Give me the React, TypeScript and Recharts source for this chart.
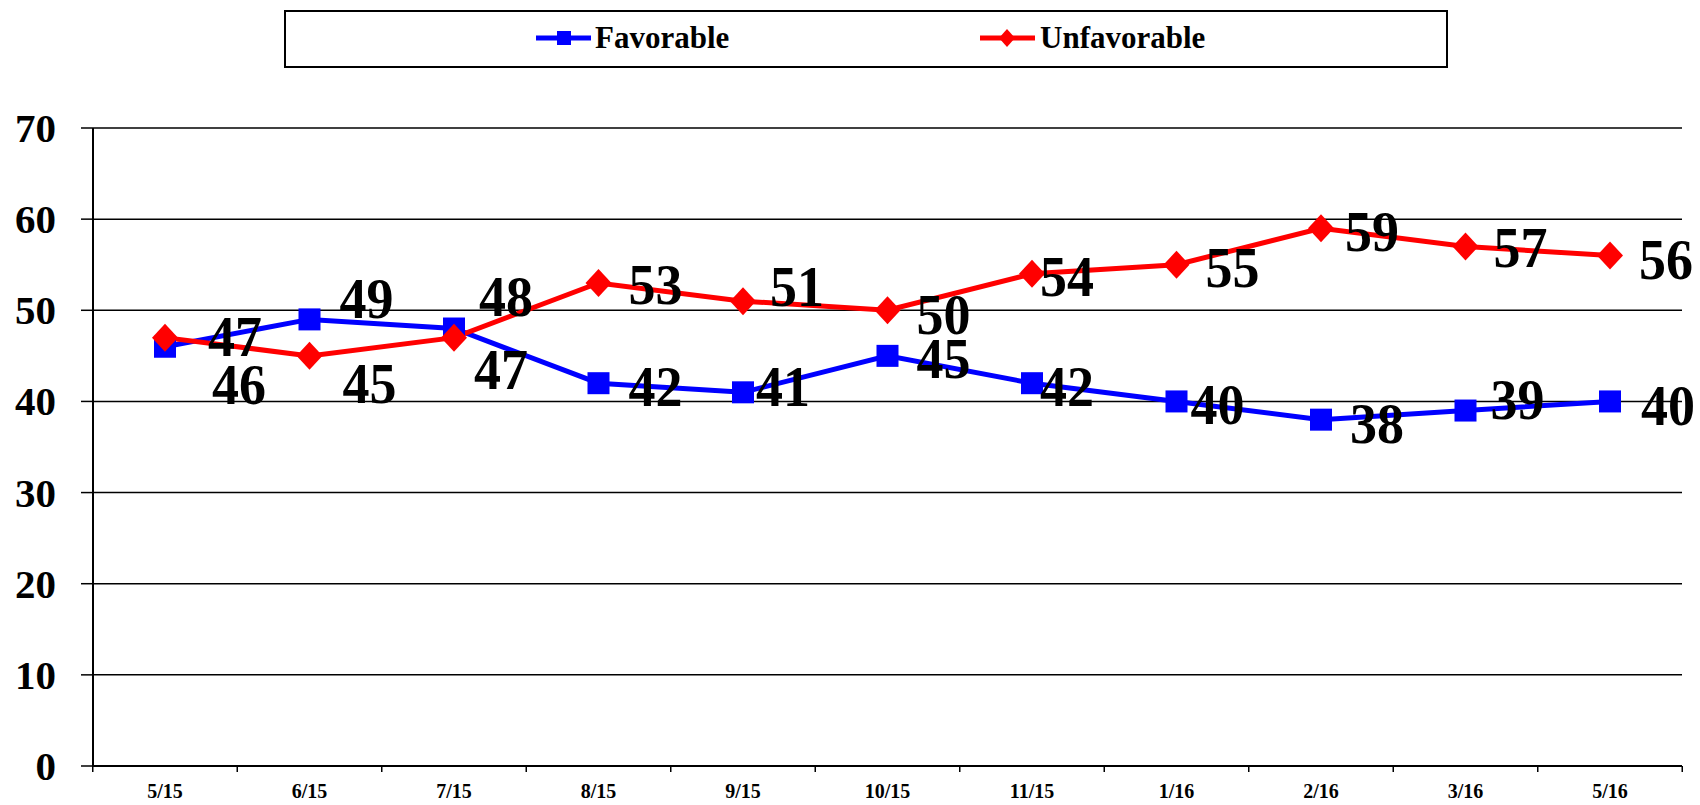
import { LineChart, Line, XAxis, YAxis, CartesianGrid, LabelList } from "recharts";

const months = ["5/15", "6/15", "7/15", "8/15", "9/15", "10/15", "11/15", "1/16", "2/16", "3/16", "5/16"];
const favorable = [46, 49, 48, 42, 41, 45, 42, 40, 38, 39, 40];
const unfavorable = [47, 45, 47, 53, 51, 50, 54, 55, 59, 57, 56];
const yTicks = [0, 10, 20, 30, 40, 50, 60, 70];

// where each value label sits, relative to its point (dx, dy of the label centre)
const favLabelOffsets = [[74, 37], [57, -21], [52, -33], [57, 3], [40, -6], [56, 2], [35, 3], [41, 3], [56, 3], [52, -12], [58, 4]];
const unfavLabelOffsets = [[70, -2], [60, 27], [47, 31], [57, 1], [54, -15], [56, 4], [35, 2], [56, 2], [51, 3], [55, 1], [56, 3]];

const data = months.map((m, i) => ({ month: m, fav: favorable[i], unfav: unfavorable[i] }));

const FONT = "'Liberation Serif', 'Times New Roman', serif";
const BLUE = "#0000ff";
const RED = "#ff0000";
const HALF_BAND = 72.25;

function XTick(props: any) {
    const { x, y, payload, index } = props;
    const last = index === months.length - 1;
    return (
        <g>
            <line x1={x - HALF_BAND} y1={y} x2={x - HALF_BAND} y2={y + 6} stroke="#000" strokeWidth={1.5} />
            {last && <line x1={x + HALF_BAND} y1={y} x2={x + HALF_BAND} y2={y + 6} stroke="#000" strokeWidth={1.5} />}
            <text x={x} y={y + 32} textAnchor="middle" fontFamily={FONT} fontWeight="bold" fontSize={20} fill="#000">
                {payload.value}
            </text>
        </g>
    );
}

function YTick(props: any) {
    const { x, y, payload } = props;
    return (
        <g>
            <line x1={x - 12} y1={y} x2={x} y2={y} stroke="#000" strokeWidth={1.5} />
            <text x={x - 37} y={y + 14} textAnchor="end" fontFamily={FONT} fontWeight="bold" fontSize={41} fill="#000">
                {payload.value}
            </text>
        </g>
    );
}

function makeLabel(offsets: number[][]) {
    return (props: any) => {
        const { x, y, value, index } = props;
        const [dx, dy] = offsets[index] ?? [50, 0];
        return (
            <text
                key={`l-${index}`}
                x={x + dx}
                y={y + dy + 20}
                textAnchor="middle"
                fontFamily={FONT}
                fontWeight="bold"
                fontSize={58}
                textLength={54}
                lengthAdjust="spacingAndGlyphs"
                fill="#000"
            >
                {value}
            </text>
        );
    };
}

function SquareDot(props: any) {
    const { cx, cy, index } = props;
    return <rect key={`sq-${index}`} x={cx - 11} y={cy - 11} width={22} height={22} fill={BLUE} />;
}

function DiamondDot(props: any) {
    const { cx, cy, index } = props;
    return (
        <path
            key={`dm-${index}`}
            d={`M${cx},${cy - 14} L${cx + 13},${cy} L${cx},${cy + 14} L${cx - 13},${cy} Z`}
            fill={RED}
        />
    );
}

function LegendBox() {
    return (
        <svg width={1700} height={80} style={{ position: "absolute", left: 0, top: 0 }}>
            <rect x={285} y={11} width={1162} height={56} fill="#fff" stroke="#000" strokeWidth={2} />
            <line x1={536} y1={38} x2={591} y2={38} stroke={BLUE} strokeWidth={5} />
            <rect x={557} y={31} width={14} height={14} fill={BLUE} />
            <text x={595} y={48} fontFamily={FONT} fontWeight="bold" fontSize={31} fill="#000">Favorable</text>
            <line x1={980} y1={38} x2={1035} y2={38} stroke={RED} strokeWidth={5} />
            <path d="M1007,29 L1015,38 L1007,47 L999,38 Z" fill={RED} />
            <text x={1040} y={48} fontFamily={FONT} fontWeight="bold" fontSize={31} fill="#000">Unfavorable</text>
        </svg>
    );
}

export default function App() {
    return (
        <div style={{ position: "absolute", left: 0, top: 0, width: 1700, height: 805, background: "#fff" }}>
            <LineChart width={1700} height={805} data={data} margin={{ top: 128, right: 18, bottom: 0, left: 0 }}>
                <CartesianGrid vertical={false} stroke="#000" strokeWidth={1.5} />
                <XAxis
                    dataKey="month"
                    interval={0}
                    padding={{ left: 72, right: 72 }}
                    height={39}
                    tickSize={0}
                    tickMargin={0}
                    tickLine={false}
                    axisLine={{ stroke: "#000", strokeWidth: 2 }}
                    tick={<XTick />}
                />
                <YAxis
                    domain={[0, 70]}
                    ticks={yTicks}
                    width={93}
                    tickSize={0}
                    tickMargin={0}
                    tickLine={false}
                    axisLine={{ stroke: "#000", strokeWidth: 2 }}
                    tick={<YTick />}
                />
                <YAxis
                    yAxisId="right"
                    orientation="right"
                    domain={[0, 70]}
                    width={0}
                    tick={false}
                    tickLine={false}
                    axisLine={{ stroke: "#000", strokeWidth: 1.5 }}
                />
                <Line
                    dataKey="fav"
                    name="Favorable"
                    stroke={BLUE}
                    strokeWidth={5}
                    dot={SquareDot}
                    activeDot={false}
                    isAnimationActive={false}
                >
                    <LabelList dataKey="fav" content={makeLabel(favLabelOffsets)} />
                </Line>
                <Line
                    dataKey="unfav"
                    name="Unfavorable"
                    stroke={RED}
                    strokeWidth={5}
                    dot={DiamondDot}
                    activeDot={false}
                    isAnimationActive={false}
                >
                    <LabelList dataKey="unfav" content={makeLabel(unfavLabelOffsets)} />
                </Line>
            </LineChart>
            <LegendBox />
        </div>
    );
}
